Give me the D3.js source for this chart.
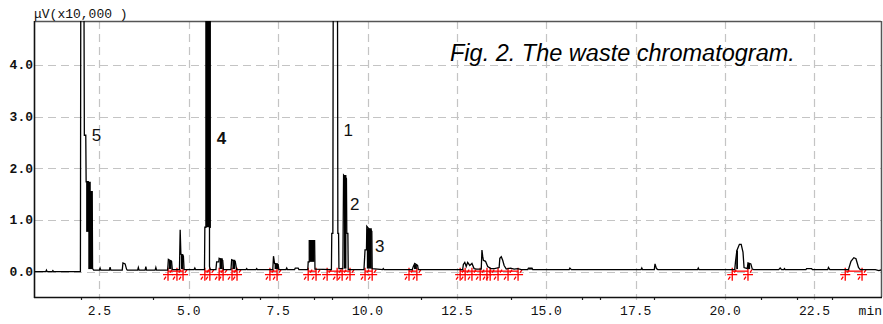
<!DOCTYPE html>
<html><head><meta charset="utf-8">
<script src="https://cdn.jsdelivr.net/npm/d3@7/dist/d3.min.js"></script>
<style>body{margin:0;background:#fff}svg{display:block}</style>
</head><body>
<svg id="c" width="883" height="324"></svg>
<script>
// ---- data (retention time in min, signal in uV x10,000) ----
const traceTime = [0.70,1.00,1.02,1.04,1.18,1.20,1.22,1.97,
 1.98,2.07,2.08,2.12,2.13,2.19,2.19,2.30,2.31,
 2.34,2.50,2.52,2.54,2.78,2.80,2.82,3.14,3.16,3.22,3.26,3.28,3.57,3.59,3.61,3.78,3.80,3.82,4.06,4.08,4.10,
 4.41,4.43,4.52,4.54,4.74,4.76,4.78,4.85,4.87,5.15,5.17,5.19,
 5.44,5.45,5.48,5.48,5.60,5.60,5.58,5.58,5.60,
 5.76,5.78,5.84,5.85,5.95,5.97,6.18,6.20,6.30,6.34,6.60,6.62,6.64,6.88,6.90,6.92,
 7.35,7.37,7.40,7.50,7.52,7.72,7.74,7.76,7.96,7.98,8.06,8.08,
 8.33,8.34,8.37,8.37,8.52,8.53,
 8.99,9.00,9.03,9.04,9.16,9.17,9.19,9.20,9.31,9.33,9.41,9.42,9.45,9.46,
 9.90,9.93,9.97,9.98,10.05,10.12,10.13,10.42,10.44,10.46,
 11.25,11.28,11.32,11.40,11.42,
 12.66,12.68,12.72,12.76,12.80,12.86,12.92,12.98,13.05,13.18,13.20,13.22,13.24,13.30,13.36,13.45,13.55,13.68,13.70,13.74,13.78,13.82,13.88,14.00,14.10,14.20,14.30,14.48,14.50,14.60,14.62,
 15.64,15.66,15.70,17.65,17.67,17.69,18.02,18.04,18.08,18.12,19.23,19.25,19.27,
 20.27,20.29,20.33,20.40,20.45,20.50,20.53,20.62,20.64,20.72,20.76,20.80,
 21.50,21.54,21.58,21.64,21.66,21.68,22.26,22.28,22.42,22.44,22.87,22.89,22.93,
 23.45,23.52,23.60,23.66,23.73,23.78,24.20,24.30,24.40];
const traceSignal = [0.00,0.00,0.03,0.00,0.00,0.02,0.00,0.00,
 5.20,5.20,2.64,2.64,1.74,1.74,1.55,1.55,0.06,
 0.03,0.03,0.07,0.03,0.03,0.09,0.03,0.03,0.17,0.15,0.05,0.03,0.03,0.08,0.03,0.03,0.10,0.03,0.03,0.08,0.03,
 0.03,0.24,0.20,0.04,0.04,0.81,0.34,0.30,0.04,0.04,0.07,0.04,
 0.04,0.86,0.86,5.20,5.20,0.86,0.86,0.10,0.04,
 0.04,0.19,0.19,0.26,0.22,0.04,0.04,0.23,0.20,0.04,0.04,0.06,0.04,0.04,0.06,0.04,
 0.04,0.30,0.16,0.14,0.04,0.04,0.07,0.04,0.04,0.07,0.07,0.04,
 0.04,0.19,0.19,0.60,0.60,0.05,
 0.04,0.74,0.74,5.20,5.20,0.74,0.74,0.06,0.06,1.87,1.80,0.74,0.74,0.04,
 0.04,0.42,0.42,0.88,0.82,0.78,0.06,0.04,0.06,0.04,
 0.04,0.10,0.16,0.12,0.04,
 0.04,0.14,0.18,0.10,0.18,0.12,0.16,0.06,0.05,0.05,0.42,0.30,0.22,0.20,0.10,0.06,0.06,0.08,0.26,0.29,0.22,0.12,0.05,0.07,0.05,0.06,0.04,0.04,0.07,0.07,0.04,
 0.04,0.07,0.04,0.04,0.07,0.04,0.04,0.15,0.06,0.04,0.04,0.07,0.04,
 0.04,0.19,0.41,0.53,0.53,0.38,0.08,0.06,0.17,0.15,0.05,0.04,
 0.04,0.07,0.04,0.04,0.06,0.04,0.04,0.06,0.06,0.04,0.04,0.08,0.04,
 0.04,0.20,0.27,0.25,0.08,0.04,0.04,0.02,0.04];
// dense (filled) regions of the trace: time from/to, signal from/to
const blockT0 = [2.13,2.19,4.44,4.78,5.48,5.86,6.22,7.40,8.37,9.34,9.98,11.30,14.50,20.31,20.64];
const blockT1 = [2.26,2.30,4.52,4.85,5.61,5.95,6.30,7.50,8.52,9.41,10.12,11.38,14.60,20.36,20.70];
const blockV0 = [0.77,0.05,0.05,0.05,0.86,0.05,0.05,0.05,0.19,0.06,0.06,0.05,0.04,0.05,0.05];
const blockV1 = [1.74,1.55,0.22,0.34,5.20,0.26,0.23,0.16,0.60,1.87,0.84,0.14,0.07,0.41,0.16];
// integration marks (start / end of each peak)
const integStart = [4.42,4.67,5.45,5.85,6.21,7.27,8.34,8.87,9.15,9.29,9.93,11.16,12.59,12.73,12.92,13.15,13.34,13.43,13.65,13.93,20.20,23.36];
const integEnd   = [4.67,4.84,5.59,5.96,6.35,7.47,8.56,9.15,9.29,9.51,10.13,11.38,12.73,12.92,13.15,13.34,13.43,13.65,13.93,14.21,20.64,23.83];
// peak labels
const peakNames = ["5","4","1","2","3"];
const peakLabelT = [2.29,5.78,9.33,9.51,10.21];
const peakLabelV = [2.53,2.47,2.63,1.20,0.38];
// axes
const xTicks = [2.5,5.0,7.5,10.0,12.5,15.0,17.5,20.0,22.5];
const xTickLabels = ["2.5","5.0","7.5","10.0","12.5","15.0","17.5","20.0","22.5"];
const xMinorTicks = [2.0,4.0,6.5,7.0,8.5,9.0,11.5,14.0,16.0,16.5,18.0,21.0,22.0,23.0];
const yTicks = [0,1,2,3,4];
const yTickLabels = ["0.0","1.0","2.0","3.0","4.0"];

// ---- drawing ----
const L=35,R=881,T=21,B=297;
const svg = d3.select("#c");
const x = d3.scaleLinear().domain([0.7,24.36]).range([L,R]);
const y = d3.scaleLinear().domain([-0.49,4.85]).range([B,T]);

svg.append("defs").append("clipPath").attr("id","pc")
  .append("rect").attr("x",L).attr("y",T).attr("width",R-L).attr("height",B-T);

// grid
const grid = svg.append("g").attr("stroke","#c4c4c4").attr("stroke-width",1.2).attr("stroke-dasharray","8,5");
grid.selectAll("line.v").data(xTicks).join("line").attr("class","v")
  .attr("x1",d=>Math.round(x(d))+0.5).attr("x2",d=>Math.round(x(d))+0.5).attr("y1",T).attr("y2",B+3);
grid.selectAll("line.h").data(yTicks).join("line").attr("class","h")
  .attr("y1",d=>Math.round(y(d))+0.5).attr("y2",d=>Math.round(y(d))+0.5).attr("x1",L).attr("x2",R);

// minor ticks
svg.append("g").selectAll("line").data(xMinorTicks).join("line")
  .attr("x1",d=>Math.round(x(d))+0.5).attr("x2",d=>Math.round(x(d))+0.5)
  .attr("y1",B).attr("y2",B+3).attr("stroke","#222").attr("stroke-width",1.2);

// frame
svg.append("line").attr("x1",L).attr("x2",R).attr("y1",T+0.5).attr("y2",T+0.5).attr("stroke","#555").attr("stroke-width",1.5);
svg.append("line").attr("x1",R+0.5).attr("x2",R+0.5).attr("y1",T).attr("y2",B).attr("stroke","#555").attr("stroke-width",1.5);
svg.append("line").attr("x1",L-0.5).attr("x2",L-0.5).attr("y1",T).attr("y2",B+1).attr("stroke","#111").attr("stroke-width",1.6);
svg.append("line").attr("x1",L-1).attr("x2",R+1).attr("y1",B+0.5).attr("y2",B+0.5).attr("stroke","#111").attr("stroke-width",1.6);

const plot = svg.append("g").attr("clip-path","url(#pc)");

// integration baselines and marks
const integ = plot.append("g").attr("stroke","#ff0000").attr("stroke-width",1.3).attr("fill","none");
integ.selectAll("line.base").data(integStart.map((s,i)=>[s,integEnd[i]])).join("line").attr("class","base")
  .attr("x1",d=>x(d[0])).attr("x2",d=>x(d[1])).attr("y1",y(0.01)).attr("y2",y(0.01));
const marks = Array.from(new Set(integStart.concat(integEnd)));
integ.selectAll("path.mk").data(marks).join("path").attr("class","mk")
  .attr("d",d=>{const cx=x(d), cy=y(0)+3; return `M${cx-5},${cy}H${cx+5}M${cx},${cy-7}V${cy+6}M${cx-4},${cy+5}L${cx-2},${cy+2}M${cx+2},${cy-2}L${cx+4},${cy-5}`;});

// dense regions
plot.append("g").selectAll("rect").data(blockT0.map((t,i)=>i)).join("rect")
  .attr("x",i=>x(blockT0[i])).attr("width",i=>x(blockT1[i])-x(blockT0[i]))
  .attr("y",i=>y(blockV1[i])).attr("height",i=>y(blockV0[i])-y(blockV1[i])).attr("fill","#000");

// trace
const pts = traceTime.map((t,i)=>[t,traceSignal[i]]);
plot.append("path").datum(pts).attr("fill","none").attr("stroke","#000").attr("stroke-width",1.3)
  .attr("stroke-linejoin","miter")
  .attr("d",d3.line().x(d=>x(d[0])).y(d=>y(d[1])));

// peak labels
svg.append("g").selectAll("text").data(peakNames).join("text")
  .attr("x",(d,i)=>x(peakLabelT[i])).attr("y",(d,i)=>y(peakLabelV[i]))
  .attr("font-family","Liberation Sans, Arial, sans-serif").attr("font-size",17)
  .attr("font-weight",d=>d==="4"?"bold":"normal").attr("fill","#111").text(d=>d);

// axis labels
const mono = "Liberation Mono, Courier New, monospace";
svg.append("g").selectAll("text").data(xTicks).join("text")
  .attr("x",d=>x(d)).attr("y",315).attr("text-anchor","middle")
  .attr("font-family",mono).attr("font-size",13).attr("fill","#111")
  .text((d,i)=>xTickLabels[i]);
svg.append("text").attr("x",R+1).attr("y",315).attr("text-anchor","end")
  .attr("font-family",mono).attr("font-size",13).attr("fill","#111").text("min");
svg.append("g").selectAll("text").data(yTicks).join("text")
  .attr("x",33).attr("y",d=>y(d)+4.5).attr("text-anchor","end")
  .attr("font-family",mono).attr("font-size",13).attr("font-weight","bold").attr("fill","#111")
  .text((d,i)=>yTickLabels[i]);
svg.append("text").attr("x",34).attr("y",18).attr("font-family",mono).attr("font-size",13)
  .attr("fill","#111").text("μV(x10,000 )");

// title
svg.append("text").attr("x",450).attr("y",61)
  .attr("font-family","Liberation Sans, Arial, sans-serif").attr("font-style","italic")
  .attr("font-size",23.5).attr("fill","#000").text("Fig. 2. The waste chromatogram.");
</script>
</body></html>
